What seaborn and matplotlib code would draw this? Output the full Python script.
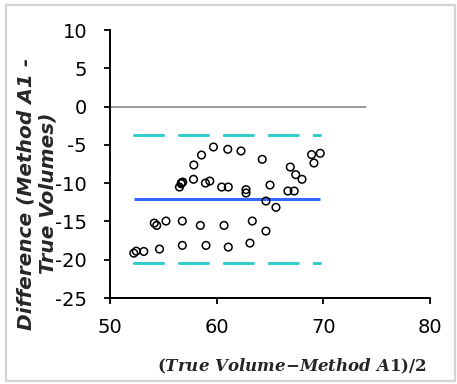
import matplotlib
matplotlib.use("Agg")
import matplotlib.pyplot as plt
import matplotlib.patches as mpatches
import numpy as np
import pandas as pd
import seaborn as sns

# Bland-Altman data: mean of the two measurements vs their difference
avg_volume = [59.70, 61.04, 62.28, 58.58, 57.86, 57.83, 59.36, 58.95, 56.82, 56.67,
              56.51, 56.70, 60.47, 61.09, 62.75, 62.75, 54.15, 54.38, 55.25, 56.78,
              58.47, 60.69, 52.23, 52.46, 53.17, 54.64, 56.78, 59.00, 61.09, 64.27,
              68.90, 69.71, 69.12, 66.90, 67.41, 68.00, 65.00, 66.68, 67.27, 64.62,
              65.56, 63.34, 64.62, 63.12]
difference = [-5.28, -5.58, -5.80, -6.33, -7.63, -9.50, -9.73, -9.99, -9.86, -10.07,
              -10.51, -9.95, -10.51, -10.51, -10.85, -11.29, -15.22, -15.52, -14.95, -14.95,
              -15.52, -15.52, -19.14, -18.88, -18.92, -18.61, -18.13, -18.13, -18.35, -6.89,
              -6.27, -6.10, -7.37, -7.90, -8.89, -9.50, -10.25, -11.03, -11.03, -12.34,
              -13.16, -14.95, -16.26, -17.83]

mean_diff = -12.05
upper_loa = -3.70
lower_loa = -20.40

x_ticks = [50, 60, 70, 80]
y_ticks = [10, 5, 0, -5, -10, -15, -20, -25]

df = pd.DataFrame({"avg": avg_volume, "diff": difference})

sns.set_style("ticks")
plt.rcParams["font.family"] = ["DejaVu Sans"]
plt.rcParams["mathtext.fontset"] = "custom"
plt.rcParams["mathtext.rm"] = "DejaVu Serif:bold"
plt.rcParams["mathtext.bf"] = "DejaVu Serif:bold"
plt.rcParams["mathtext.it"] = "DejaVu Serif:italic:bold"

fig = plt.figure(figsize=(4.57, 3.84), dpi=100)
ax = fig.add_axes([110 / 457, 1 - 298 / 384, 320 / 457, 268 / 384])

# outer frame around the chart area
fig.patches.append(mpatches.Rectangle((6 / 457, 3 / 384), 449 / 457, 376 / 384,
                                      transform=fig.transFigure, fill=False,
                                      edgecolor="#d4d4d4", linewidth=1.6))

x_lo, x_hi = min(avg_volume), max(avg_volume)

ax.plot([50, 74], [0, 0], color="#808080", linewidth=1.1, zorder=1)
ax.plot([x_lo, x_hi], [mean_diff, mean_diff], color="#3366ff", linewidth=2.2,
        solid_capstyle="butt", zorder=2)
for lim in (upper_loa, lower_loa):
    ax.plot([x_lo, x_hi], [lim, lim], color="#33cccc", linewidth=2.2,
            dashes=(9.5, 5.2), dash_capstyle="round", zorder=2)

sns.scatterplot(data=df, x="avg", y="diff", ax=ax, marker="o", s=30,
                facecolor="none", edgecolor="black", linewidth=1.1, zorder=3)

ax.set_xlim(50, 80)
ax.set_ylim(-25, 10)
ax.set_xticks(x_ticks)
ax.set_yticks(y_ticks)
ax.set_yticklabels([str(v) for v in y_ticks])
ax.tick_params(axis="both", labelsize=14, length=4.5, width=1.3, direction="out",
               colors="black")
ax.tick_params(axis="y", pad=12)
ax.tick_params(axis="x", pad=10)
for side in ("left", "bottom"):
    ax.spines[side].set_linewidth(1.4)
    ax.spines[side].set_color("black")
sns.despine(ax=ax)

ax.set_ylabel("Difference (Method A1 -\nTrue Volumes)", fontsize=14.5,
              fontweight="bold", fontstyle="italic", va="center", ha="center",
              multialignment="center")
ax.yaxis.set_label_coords(-0.228, 0.39)

ax.set_xlabel(r"$\mathrm{(}\mathit{True\ Volume}{-}\mathit{Method\ A}\mathrm{1)/2}$",
              fontsize=12, va="center")
ax.xaxis.set_label_coords(0.569, -0.254)

fig.savefig("out.png", dpi=100)
